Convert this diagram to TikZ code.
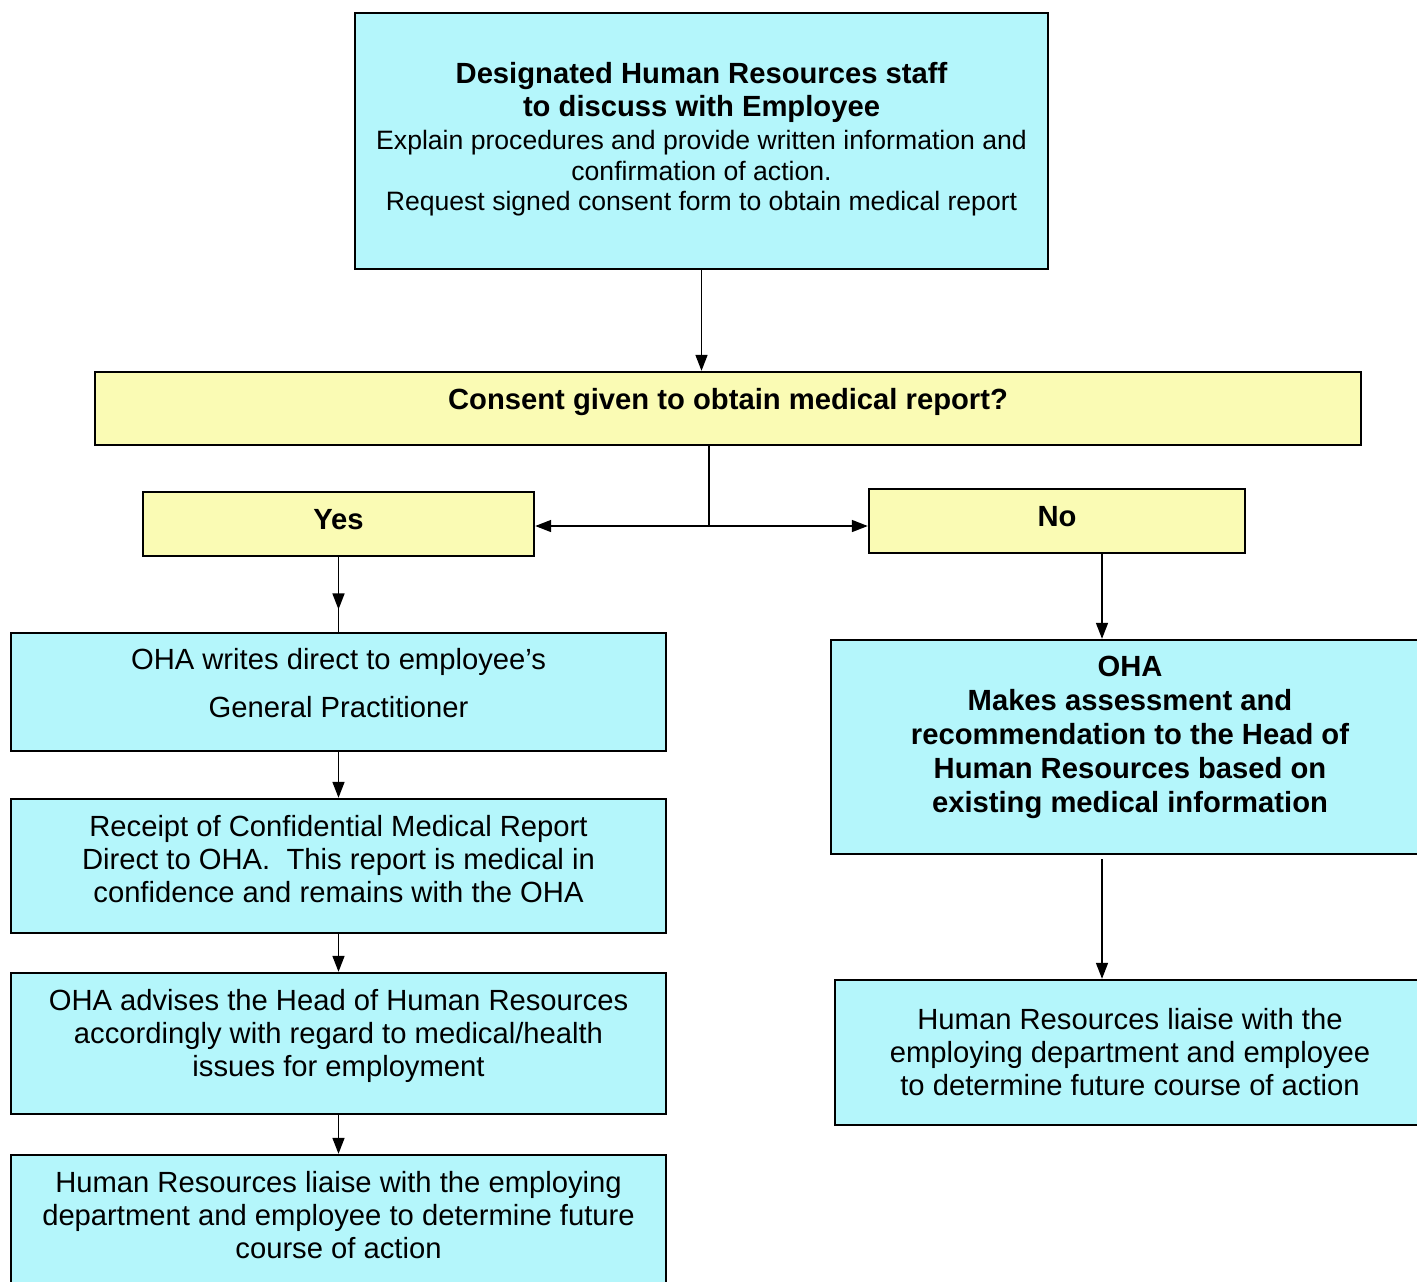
\documentclass[tikz,border=0pt]{standalone}
\usepackage{fontspec}
\setmainfont{Liberation Sans}
\usetikzlibrary{arrows.meta, decorations.markings}

\definecolor{boxcyan}{RGB}{180,246,251}
\definecolor{boxyellow}{RGB}{250,251,180}
\newcommand{\bpad}[1]{\rule[-#1]{0pt}{#1}}
\newcommand{\headfont}{\bfseries\fontsize{14.6}{16.5}\selectfont}

\tikzset{
    stepbox/.style={draw, line width=1.2pt, fill=boxcyan, align=center, inner sep=0pt,
        font=\fontsize{14.6}{16.5}\selectfont},
    askbox/.style={stepbox, fill=boxyellow, font=\bfseries\fontsize{14.6}{16.5}\selectfont},
    flow/.style={-{Triangle[width=6pt,length=8pt]}, line width=0.8pt},
    midflow/.style={line width=0.8pt, postaction={decorate},
        decoration={markings, mark=at position 0.7 with {\arrow{Triangle[width=6pt,length=8pt]}}}}
}

\begin{document}
\begin{tikzpicture}[x=0.5pt, y=-0.5pt]
    \useasboundingbox (0,0) rectangle (1417,1281);
    \clip (0,0) rectangle (1417,1281);
    % top and question
    \node[stepbox, minimum width=346.5pt, minimum height=128pt, font=\fontsize{13.3}{16.5}\selectfont]
        (hrstaff) at (701.5,141)
        {{\headfont Designated Human Resources staff}\\
         {\headfont to discuss with Employee}\\
         Explain procedures and provide written information and\\[-1pt]
         confirmation of action.\\[-1.5pt]
         Request signed consent form to obtain medical report\bpad{4.6pt}};
    \node[askbox, minimum width=633pt, minimum height=36.5pt] (consent) at (728,408.5)
        {Consent given to obtain medical report?\bpad{9.6pt}};
    \node[askbox, minimum width=195.5pt, minimum height=32pt] (yes) at (338.5,524) {Yes\bpad{5pt}};
    \node[askbox, minimum width=188pt, minimum height=32pt] (no) at (1057,521) {No\bpad{5pt}};
    \coordinate (split) at (709,526);
    % yes branch
    \node[stepbox, minimum width=327.5pt, minimum height=59pt] (gp) at (338.5,692)
        {OHA writes direct to employee’s\\[7.5pt] General Practitioner\bpad{9pt}};
    \node[stepbox, minimum width=327.5pt, minimum height=67pt] (report) at (338.5,866)
        {Receipt of Confidential Medical Report\\
         Direct to OHA.\ \ This report is medical in\\
         confidence and remains with the OHA\bpad{7pt}};
    \node[stepbox, minimum width=327.5pt, minimum height=70.5pt] (advise) at (338.5,1043.5)
        {OHA advises the Head of Human Resources\\
         accordingly with regard to medical/health\\
         issues for employment\bpad{11.1pt}};
    \node[stepbox, minimum width=327.5pt, minimum height=70pt] (liaiseyes) at (338.5,1225)
        {Human Resources liaise with the employing\\
         department and employee to determine future\\
         course of action\bpad{10pt}};
    % no branch
    \node[stepbox, minimum width=299pt, minimum height=107pt, font=\bfseries\fontsize{14.6}{17}\selectfont]
        (assess) at (1130,747)
        {OHA\\ Makes assessment and\\ recommendation to the Head of\\
         Human Resources based on\\ existing medical information\bpad{12.6pt}};
    \node[stepbox, minimum width=295pt, minimum height=72.5pt] (liaiseno) at (1130,1052.5)
        {Human Resources liaise with the\\
         employing department and employee\\
         to determine future course of action\bpad{1pt}};
    \coordinate (nodrop) at ([xshift=22.5pt]no.south);
    % connectors
    \draw[flow] (hrstaff.south) -- (hrstaff.south |- consent.north);
    \draw[line width=0.8pt] (split |- consent.south) -- (split);
    \draw[flow] (split) -- (split -| yes.east);
    \draw[flow] (split) -- (split -| no.west);
    \draw[midflow] (yes.south) -- (gp.north);
    \draw[flow] (gp.south) -- (report.north);
    \draw[flow] (report.south) -- (advise.north);
    \draw[flow] (advise.south) -- (liaiseyes.north);
    \draw[flow] (nodrop) -- (nodrop |- assess.north);
    \draw[flow] ([yshift=-2pt]nodrop |- assess.south) -- (nodrop |- liaiseno.north);
\end{tikzpicture}
\end{document}
